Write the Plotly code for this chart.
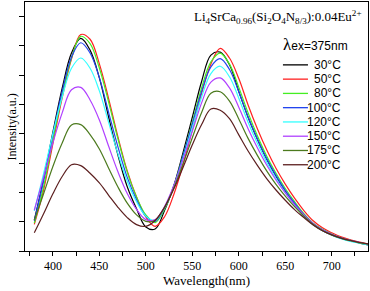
import plotly.graph_objects as go

wavelength = list(range(380, 741, 10))

temps = ["30°C", "50°C", "80°C", "100°C", "120°C", "150°C", "175°C", "200°C"]
colors = ["#000000", "#FF2020", "#44EE22", "#2244EE", "#33FFFF", "#B040FF", "#4C7A1E", "#5C1F1F"]

i_30 = [1.05,2.45,4.05,5.55,6.75,7.25,6.85,5.90,4.56,3.27,2.19,1.44,0.82,0.75,1.37,2.22,3.35,4.56,5.78,6.68,6.78,6.35,5.44,4.56,3.81,3.13,2.55,2.04,1.60,1.20,0.90,0.70,0.55,0.43,0.34,0.27,0.20]
i_50 = [0.91,2.08,3.66,5.22,6.54,7.38,7.22,6.38,5.19,3.89,2.73,1.84,1.16,0.84,1.16,1.92,2.94,4.14,5.37,6.38,6.91,6.58,5.88,4.98,4.17,3.45,2.82,2.28,1.80,1.38,1.03,0.79,0.62,0.48,0.38,0.30,0.23]
i_80 = [0.95,2.19,3.78,5.31,6.58,7.32,7.07,6.24,5.07,3.82,2.69,1.84,1.23,0.97,1.42,2.20,3.25,4.39,5.56,6.45,6.75,6.37,5.58,4.71,3.93,3.24,2.65,2.13,1.68,1.27,0.95,0.74,0.58,0.45,0.36,0.28,0.22]
i_100 = [1.03,2.40,3.97,5.44,6.61,7.10,6.75,5.91,4.72,3.55,2.51,1.75,1.18,1.01,1.46,2.21,3.24,4.33,5.44,6.28,6.56,6.19,5.43,4.57,3.82,3.15,2.58,2.07,1.63,1.24,0.93,0.72,0.56,0.44,0.35,0.28,0.21]
i_120 = [1.37,2.64,4.00,5.25,6.23,6.58,6.23,5.46,4.38,3.31,2.38,1.68,1.19,1.04,1.46,2.18,3.14,4.19,5.25,6.05,6.30,5.94,5.21,4.39,3.67,3.03,2.47,1.99,1.56,1.19,0.89,0.69,0.54,0.42,0.33,0.27,0.20]
i_150 = [1.39,2.52,3.69,4.71,5.50,5.58,5.15,4.47,3.57,2.70,1.96,1.42,1.07,1.07,1.51,2.22,3.11,4.08,5.05,5.76,5.90,5.56,4.90,4.17,3.52,2.93,2.42,1.98,1.58,1.23,0.94,0.72,0.57,0.45,0.36,0.29,0.23]
i_175 = [1.05,1.95,2.88,3.68,4.30,4.31,3.97,3.48,2.82,2.18,1.63,1.23,1.01,1.05,1.48,2.14,2.97,3.86,4.72,5.38,5.43,5.11,4.50,3.84,3.26,2.73,2.27,1.87,1.51,1.19,0.91,0.70,0.55,0.44,0.35,0.28,0.23]
i_200 = [0.62,1.27,1.95,2.54,2.94,2.91,2.65,2.32,1.90,1.49,1.14,0.90,0.84,1.04,1.48,2.11,2.85,3.62,4.31,4.84,4.80,4.51,3.96,3.41,2.92,2.47,2.08,1.73,1.41,1.14,0.89,0.69,0.55,0.44,0.36,0.29,0.24]

series = [i_30, i_50, i_80, i_100, i_120, i_150, i_175, i_200]

x_ticks = [400, 450, 500, 550, 600, 650, 700]

SERIF = "Liberation Serif, Times New Roman, serif"
SANS = "Liberation Sans, Arial, sans-serif"

fig = go.Figure()
for name, col, ys in zip(temps, colors, series):
    fig.add_trace(go.Scatter(x=wavelength, y=ys, mode="lines", name=name,
                             line=dict(color=col, width=1.2, shape="spline", smoothing=1.0),
                             showlegend=False, hoverinfo="skip"))

fig.update_layout(
    width=370, height=291,
    margin=dict(l=25, r=2, t=2, b=40),
    plot_bgcolor="white", paper_bgcolor="white",
    showlegend=False,
)
fig.update_xaxes(
    range=[370, 739], showline=True, mirror=True, linecolor="black", linewidth=1,
    showgrid=False, zeroline=False,
    tickmode="array", tickvals=x_ticks, ticktext=[str(v) for v in x_ticks],
    ticks="outside", ticklen=4, tickcolor="black", tickwidth=1,
    tickfont=dict(family=SERIF, size=12, color="black"),
    minor=dict(dtick=25, tick0=375, ticks="outside", ticklen=4, tickcolor="black", showgrid=False),
)
fig.update_yaxes(
    range=[0, 8.49], showline=True, mirror=True, linecolor="black", linewidth=1,
    showgrid=False, zeroline=False,
    tickmode="linear", tick0=0, dtick=1, ticks="outside", ticklen=5,
    tickcolor="black", showticklabels=False,
)

ann = []
ann.append(dict(text="Wavelength(nm)", xref="paper", yref="paper", x=0.528, y=-0.118,
                xanchor="center", yanchor="middle", showarrow=False,
                font=dict(family=SERIF, size=13, color="black")))
ann.append(dict(text="Intensity(a.u.)", xref="paper", yref="paper", x=-0.038, y=0.5,
                xanchor="center", yanchor="middle", showarrow=False, textangle=-90,
                font=dict(family=SERIF, size=12, color="black")))
ann.append(dict(text="Li<sub>4</sub>SrCa<sub>0.96</sub>(Si<sub>2</sub>O<sub>4</sub>N<sub>8/3</sub>):0.04Eu<sup>2+</sup>",
                xref="paper", yref="paper", x=0.988, y=0.94, xanchor="right", yanchor="middle",
                showarrow=False, font=dict(family=SERIF, size=13, color="black")))
ann.append(dict(text="<span style='font-family:Liberation Serif;font-size:17px'>λ</span>ex=375nm",
                xref="paper", yref="paper", x=0.745, y=0.828, xanchor="left", yanchor="middle",
                showarrow=False, font=dict(family=SANS, size=12, color="black")))

shapes = []
y0 = 0.7475
dy = 0.0573
for i, (name, col) in enumerate(zip(temps, colors)):
    yy = y0 - i * dy
    shapes.append(dict(type="line", xref="paper", yref="paper", x0=0.752, x1=0.825, y0=yy, y1=yy,
                       line=dict(color=col, width=1.3)))
    ann.append(dict(text=name, xref="paper", yref="paper", x=0.927, y=yy, xanchor="right",
                    yanchor="middle", showarrow=False, font=dict(family=SANS, size=12, color="black")))

fig.update_layout(annotations=ann, shapes=shapes)
fig.write_html("out.html", config={"displayModeBar": False, "staticPlot": True},
               post_script="document.body.style.margin='0';document.body.style.padding='0';")
